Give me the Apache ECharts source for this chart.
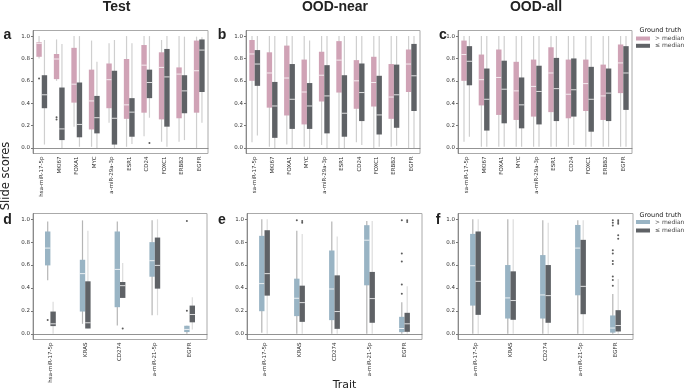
<!DOCTYPE html>
<html>
<head>
<meta charset="utf-8">
<script src="https://cdn.jsdelivr.net/npm/echarts@6/dist/echarts.min.js"></script>
<style>
  html, body { margin: 0; padding: 0; background: #fff; }
  #chart { width: 685px; height: 390px; }
</style>
</head>
<body>
<div id="chart"></div>
<script>
// categories
const topCats = ['hsa-miR-17-5p', 'MKI67', 'FOXA1', 'MYC', 'a-miR-29a-3p', 'ESR1', 'CD24', 'FOXC1', 'ERBB2', 'EGFR'];
const topCatsB = ['sa-miR-17-5p', 'MKI67', 'FOXA1', 'MYC', 'a-miR-29a-3p', 'ESR1', 'CD24', 'FOXC1', 'ERBB2', 'EGFR'];
const botCatsD = ['hsa-miR-17-5p', 'KRAS', 'CD274', 'a-miR-21-5p', 'EGFR'];
const botCatsE = ['a-miR-17-5p', 'KRAS', 'CD274', 'a-miR-21-5p', 'EGFR'];
const yTicks = [0, 0.2, 0.4, 0.6, 0.8, 1.0];

// box stats per category: [whisker low, q1, median, q3, whisker high]
const testHigh = [
  [0.80, 0.815, 0.935, 0.945, 1.0], [0.60, 0.615, 0.795, 0.84, 0.97], [0.19, 0.405, 0.57, 0.895, 1.0],
  [0.01, 0.165, 0.42, 0.70, 0.96], [0.225, 0.355, 0.61, 0.755, 0.935], [0.01, 0.26, 0.385, 0.795, 1.0],
  [0.105, 0.315, 0.74, 0.92, 1.0], [0.055, 0.255, 0.72, 0.855, 0.965], [0.055, 0.265, 0.66, 0.72, 1.0],
  [0.0, 0.315, 0.69, 0.96, 0.995]
];
const testLow = [
  [0.03, 0.355, 0.475, 0.65, 0.965], [0.0, 0.07, 0.17, 0.54, 0.93], [0.01, 0.095, 0.21, 0.585, 1.0],
  [0.0, 0.13, 0.27, 0.465, 0.77], [0.0, 0.03, 0.265, 0.69, 0.965], [0.035, 0.10, 0.32, 0.445, 0.935],
  [0.27, 0.445, 0.585, 0.70, 1.0], [0.01, 0.19, 0.635, 0.885, 1.0], [0.07, 0.31, 0.51, 0.65, 0.995],
  [0.225, 0.50, 0.875, 0.97, 0.99]
];
const nearHigh = [
  [0.05, 0.60, 0.84, 0.965, 1.0], [0.01, 0.36, 0.67, 0.855, 1.0], [0.03, 0.29, 0.625, 0.915, 1.0],
  [0.01, 0.21, 0.50, 0.79, 1.0], [0.025, 0.415, 0.65, 0.86, 1.0], [0.0, 0.495, 0.785, 0.955, 1.0],
  [0.05, 0.35, 0.60, 0.785, 1.0], [0.0, 0.37, 0.585, 0.815, 1.0], [0.01, 0.26, 0.455, 0.75, 1.0],
  [0.0, 0.50, 0.75, 0.88, 1.0]
];
const nearLow = [
  [0.11, 0.555, 0.75, 0.875, 1.0], [0.0, 0.09, 0.375, 0.59, 1.0], [0.0, 0.17, 0.435, 0.75, 1.0],
  [0.0, 0.17, 0.375, 0.58, 0.96], [0.0, 0.13, 0.465, 0.74, 1.0], [0.0, 0.10, 0.31, 0.65, 1.0],
  [0.025, 0.24, 0.495, 0.755, 1.0], [0.01, 0.12, 0.295, 0.645, 1.0], [0.02, 0.18, 0.475, 0.745, 1.0],
  [0.0, 0.33, 0.645, 0.93, 1.0]
];
const allHigh = [
  [0.055, 0.60, 0.835, 0.96, 1.0], [0.01, 0.38, 0.61, 0.835, 1.0], [0.01, 0.295, 0.63, 0.88, 1.0],
  [0.01, 0.25, 0.51, 0.77, 1.0], [0.01, 0.28, 0.55, 0.79, 1.0], [0.01, 0.32, 0.67, 0.90, 1.0],
  [0.01, 0.265, 0.48, 0.79, 1.0], [0.01, 0.33, 0.575, 0.79, 1.0], [0.01, 0.25, 0.465, 0.745, 1.0],
  [0.01, 0.49, 0.76, 0.925, 1.0]
];
const allLow = [
  [0.10, 0.56, 0.775, 0.91, 1.0], [0.01, 0.155, 0.435, 0.71, 1.0], [0.01, 0.22, 0.525, 0.78, 1.0],
  [0.01, 0.175, 0.385, 0.63, 1.0], [0.01, 0.21, 0.505, 0.735, 1.0], [0.01, 0.24, 0.53, 0.805, 1.0],
  [0.025, 0.28, 0.52, 0.80, 1.0], [0.01, 0.145, 0.435, 0.725, 1.0], [0.01, 0.24, 0.49, 0.71, 1.0],
  [0.01, 0.34, 0.67, 0.91, 1.0]
];
const testHighB = [
  [0.467, 0.597, 0.748, 0.893, 0.98], [0.087, 0.194, 0.525, 0.646, 0.99], [0.072, 0.232, 0.562, 0.893, 0.98],
  [0.162, 0.498, 0.638, 0.80, 0.99], [0.0, 0.015, 0.038, 0.07, 0.07]
];
const testLowB = [
  [0.0, 0.067, 0.087, 0.194, 0.28], [0.046, 0.046, 0.096, 0.458, 0.90], [0.313, 0.313, 0.42, 0.452, 0.617],
  [0.162, 0.394, 0.597, 0.84, 1.0], [0.038, 0.10, 0.168, 0.246, 0.319]
];
const nearHighB = [
  [0.01, 0.197, 0.438, 0.855, 1.0], [0.0, 0.154, 0.31, 0.481, 0.90], [0.0, 0.119, 0.391, 0.727, 0.98],
  [0.0, 0.423, 0.817, 0.948, 0.985], [0.0, 0.014, 0.046, 0.148, 0.275]
];
const nearLowB = [
  [0.0, 0.333, 0.525, 0.904, 1.0], [0.0, 0.104, 0.272, 0.42, 0.87], [0.0, 0.043, 0.194, 0.51, 0.85],
  [0.0, 0.096, 0.307, 0.54, 0.985], [0.0, 0.017, 0.087, 0.183, 0.415]
];
const allHighB = [
  [0.0, 0.246, 0.594, 0.872, 1.0], [0.0, 0.133, 0.313, 0.60, 1.0], [0.0, 0.133, 0.339, 0.687, 0.99],
  [0.0, 0.336, 0.748, 0.95, 0.99], [0.0, 0.01, 0.05, 0.16, 0.348]
];
const allLowB = [
  [0.0, 0.165, 0.458, 0.893, 1.0], [0.0, 0.122, 0.29, 0.545, 1.0], [0.0, 0.096, 0.333, 0.60, 0.97],
  [0.0, 0.171, 0.414, 0.82, 0.99], [0.0, 0.02, 0.072, 0.206, 0.478]
];

// outliers: [category index, value]
const testHighOut = [[0, 0.62], [1, 0.275], [1, 0.255]];
const testLowOut = [[6, 0.045]];
const testHighBOut = [[0, 0.12], [4, 0.985], [4, 0.20]];
const testLowBOut = [[2, 0.046]];
const nearHighBOut = [[1, 0.99], [4, 0.99], [4, 0.70], [4, 0.63], [4, 0.43], [4, 0.35]];
const nearLowBOut = [[1, 0.985], [1, 0.97], [4, 0.99], [4, 0.975]];
const allHighBOut = [[4, 0.99], [4, 0.97], [4, 0.945], [4, 0.73], [4, 0.70], [4, 0.635], [4, 0.61], [4, 0.50], [4, 0.47], [4, 0.42]];
const allLowBOut = [[4, 0.99], [4, 0.975], [4, 0.96], [4, 0.86], [4, 0.83]];

const PINK = '#d0a3b6';
const BLUE = '#99b4c4';
const DARK = '#5f6266';
const FONT = 'DejaVu Sans';
const HALF = 2.7;

const myChart = echarts.init(document.getElementById('chart'));

const grids = [
  {left: 33, top: 30.5, width: 175, height: 123},
  {left: 246, top: 30.5, width: 174, height: 123},
  {left: 458, top: 30.5, width: 174, height: 123},
  {left: 33, top: 213.5, width: 174, height: 126},
  {left: 247, top: 213.5, width: 175, height: 126},
  {left: 458, top: 213.5, width: 175, height: 126}
];
const panelCats = [topCats, topCatsB, topCatsB, botCatsD, botCatsE, botCatsE];

function boxSeries(name, stats, gi, color, whisker, side) {
  return {
    type: 'custom',
    name: name,
    xAxisIndex: gi,
    yAxisIndex: gi,
    itemStyle: {color: color},
    encode: {x: 0, y: [1, 2, 3, 4, 5]},
    data: stats.map((d, i) => [i].concat(d)),
    renderItem: function (params, api) {
      const c = api.value(0);
      const lo = api.coord([c, api.value(1)]);
      const q1 = api.coord([c, api.value(2)]);
      const md = api.coord([c, api.value(3)]);
      const q3 = api.coord([c, api.value(4)]);
      const hi = api.coord([c, api.value(5)]);
      const x = lo[0] + side * HALF;
      return {
        type: 'group',
        children: [
          {type: 'line', shape: {x1: x, y1: lo[1], x2: x, y2: hi[1]}, style: {stroke: whisker, lineWidth: 1.2}},
          {type: 'rect', shape: {x: x - HALF, y: q3[1], width: HALF * 2, height: Math.max(q1[1] - q3[1], 0.5)}, style: {fill: color}},
          {type: 'line', shape: {x1: x - HALF, y1: md[1], x2: x + HALF, y2: md[1]}, style: {stroke: '#fff', lineWidth: 0.8}}
        ]
      };
    }
  };
}

function outSeries(pts, gi, side) {
  return {
    type: 'scatter',
    xAxisIndex: gi,
    yAxisIndex: gi,
    data: pts,
    symbolSize: 2,
    symbolOffset: [side * HALF, 0],
    itemStyle: {color: '#333'},
    silent: true,
    z: 5
  };
}

const series = [
  boxSeries('> median', testHigh, 0, PINK, '#cfcfcf', -1),
  boxSeries('≤ median', testLow, 0, DARK, '#cfcfcf', 1),
  boxSeries('> median', nearHigh, 1, PINK, '#cfcfcf', -1),
  boxSeries('≤ median', nearLow, 1, DARK, '#cfcfcf', 1),
  boxSeries('> median', allHigh, 2, PINK, '#cfcfcf', -1),
  boxSeries('≤ median', allLow, 2, DARK, '#cfcfcf', 1),
  boxSeries('> median ', testHighB, 3, BLUE, '#b5b5b5', -1),
  boxSeries('≤ median ', testLowB, 3, DARK, '#dcdcdc', 1),
  boxSeries('> median ', nearHighB, 4, BLUE, '#b5b5b5', -1),
  boxSeries('≤ median ', nearLowB, 4, DARK, '#dcdcdc', 1),
  boxSeries('> median ', allHighB, 5, BLUE, '#b5b5b5', -1),
  boxSeries('≤ median ', allLowB, 5, DARK, '#dcdcdc', 1),
  outSeries(testHighOut, 0, -1),
  outSeries(testLowOut, 0, 1),
  outSeries(testHighBOut, 3, -1),
  outSeries(testLowBOut, 3, 1),
  outSeries(nearHighBOut, 4, -1),
  outSeries(nearLowBOut, 4, 1),
  outSeries(allHighBOut, 5, -1),
  outSeries(allLowBOut, 5, 1)
];

const legendBase = {
  orient: 'vertical',
  left: 636,
  padding: 0,
  icon: 'rect',
  itemWidth: 14,
  itemHeight: 4,
  selectedMode: false,
  formatter: n => n.trim(),
  textStyle: {fontSize: 6, lineHeight: 7, color: '#444', fontFamily: FONT}
};

function txt(text, x, y, size, weight, family, extra) {
  return Object.assign({
    type: 'text', x: x, y: y,
    style: {text: text, fontSize: size, fontWeight: weight, fontFamily: family, fill: '#222', align: 'center', verticalAlign: 'middle'}
  }, extra || {});
}

const option = {
  backgroundColor: '#fff',
  animation: false,
  grid: grids.map(g => Object.assign({show: true, borderColor: '#aaa', borderWidth: 1, backgroundColor: 'transparent'}, g)),
  xAxis: panelCats.map((cats, i) => ({
    type: 'category',
    gridIndex: i,
    data: cats,
    boundaryGap: true,
    axisLine: {lineStyle: {color: '#777', width: 0.8}},
    axisTick: {alignWithLabel: true, length: 2, lineStyle: {color: '#777'}},
    axisLabel: {rotate: 90, interval: 0, fontSize: 5.5, color: '#333', margin: 3, fontFamily: FONT},
    splitLine: {show: false}
  })),
  yAxis: grids.map((g, i) => ({
    type: 'value',
    gridIndex: i,
    min: -0.05,
    max: 1.05,
    axisLine: {show: true, lineStyle: {color: '#777', width: 0.8}},
    axisTick: {show: true, length: 2, customValues: yTicks, lineStyle: {color: '#777'}},
    axisLabel: {customValues: yTicks, formatter: v => v.toFixed(1), fontSize: 5.5, color: '#333', margin: 3, fontFamily: FONT},
    splitLine: {show: false}
  })),
  legend: [
    Object.assign({top: 35, itemGap: 0.3, data: [{name: '> median'}, {name: '≤ median'}]}, legendBase),
    Object.assign({top: 218.5, itemGap: 1.5, data: [{name: '> median '}, {name: '≤ median '}]}, legendBase)
  ],
  graphic: [
    txt('Test', 116.5, 7, 14, 'bold', 'Liberation Sans'),
    txt('OOD-near', 335, 7, 14, 'bold', 'Liberation Sans'),
    txt('OOD-all', 536, 7, 14, 'bold', 'Liberation Sans'),
    txt('a', 7.5, 35.5, 14, 'bold', 'Liberation Sans'),
    txt('b', 222, 35.5, 14, 'bold', 'Liberation Sans'),
    txt('c', 443, 35.5, 14, 'bold', 'Liberation Sans'),
    txt('d', 7.5, 220.5, 14, 'bold', 'Liberation Sans'),
    txt('e', 222, 220.5, 14, 'bold', 'Liberation Sans'),
    txt('f', 438, 220.5, 14, 'bold', 'Liberation Sans'),
    txt('Ground truth', 660.5, 30, 6.5, 'normal', FONT),
    txt('Ground truth', 660.5, 215, 6.5, 'normal', FONT),
    txt('Slide scores', 6, 176, 11.5, 'normal', FONT, {rotation: Math.PI / 2}),
    txt('Trait', 344.5, 385, 11, 'normal', FONT)
  ],
  series: series
};

myChart.setOption(option);
</script>
</body>
</html>
